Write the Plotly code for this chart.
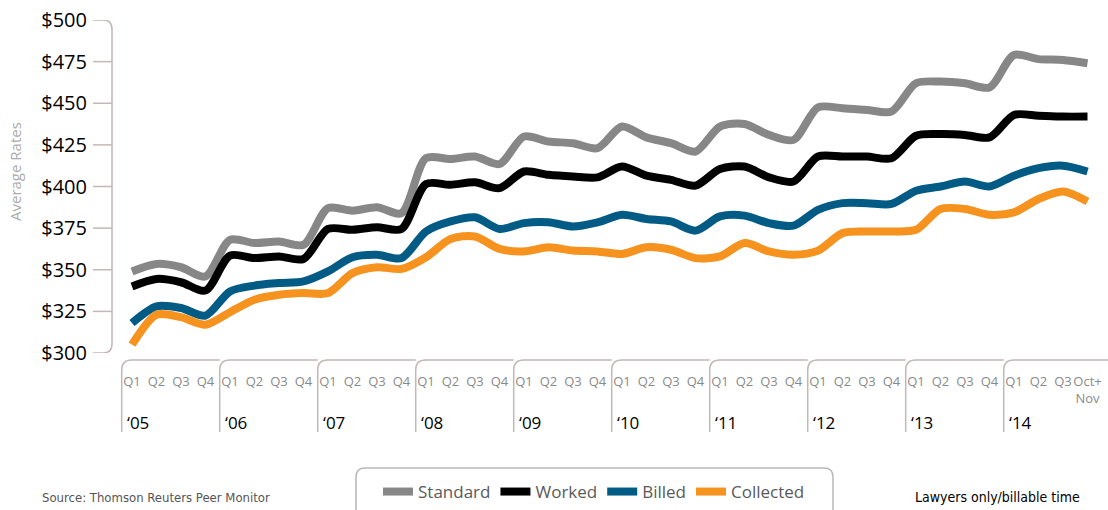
import plotly.graph_objects as go

# ---------------- data ----------------
year_labels = ["\u201805", "\u201806", "\u201807", "\u201808", "\u201809",
               "\u201810", "\u201811", "\u201812", "\u201813", "\u201814"]
quarter_labels = (["Q1", "Q2", "Q3", "Q4"] * 9) + ["Q1", "Q2", "Q3", "Oct+<br>Nov"]
y_ticks = [300, 325, 350, 375, 400, 425, 450, 475, 500]
y_tick_text = ["$300", "$325", "$350", "$375", "$400", "$425", "$450", "$475", "$500"]

standard = [349, 353.5, 351.5, 346, 368, 366, 367, 365, 387, 385.5, 387.5, 384,
            417, 416.5, 418, 413.5, 430, 427, 426, 423, 436, 429.5, 426, 421,
            436, 437.5, 431, 428, 447.5, 447, 446, 445, 462, 463, 462, 459.5,
            479, 476.5, 476, 474]
worked = [340, 344.5, 342.5, 337.5, 358.5, 357, 358, 356.5, 374.5, 374, 375.5, 374.5,
          401.5, 401, 402.5, 399, 409, 407, 406, 405.5, 412, 406.5, 404, 400.5,
          410.5, 412, 405.5, 403, 418, 418, 418, 417, 430.5, 431.5, 431, 429.5,
          443, 442.5, 442, 442]
billed = [318, 328, 327, 322.5, 337, 340.5, 342, 343, 349, 357.5, 359, 357,
          373, 379, 381.5, 374.5, 378, 378.5, 376, 378.5, 383, 380.5, 379, 373.5,
          382, 382.5, 378, 376.5, 386, 390, 390, 389.5, 397.5, 400, 403, 400,
          406.5, 411, 412.5, 409]
collected = [305, 323, 321.5, 317, 324.5, 332, 335, 336, 336, 348, 351.5, 350.5,
             357.5, 368.5, 370, 362.5, 361, 363.5, 361.5, 361, 359.5, 363.5, 362, 357,
             358, 366, 361, 359, 361.5, 372, 373, 373, 374, 386.5, 386.5, 383,
             384.5, 392.5, 397, 391]

series_names = ["Standard", "Worked", "Billed", "Collected"]
series_colors = ["#878787", "#000000", "#015b85", "#f6921e"]
series_values = [standard, worked, billed, collected]

# ---------------- layout geometry ----------------
W, H = 1108, 510
ML, MR, MT, MB = 112, 0, 20, 157
PW, PH = W - ML - MR, H - MT - MB
BOTTOM_PX = H - MB
AXIS_COLOR = "#c3b7b7"
FONT = "Open Sans, Noto Sans, sans-serif"
NARROW = "Liberation Sans Narrow, DejaVu Sans Condensed, Liberation Sans, sans-serif"

x_idx = list(range(len(quarter_labels)))
px_per_q = 24.5
x_first_px = 132
x_range = [-(x_first_px - ML) / px_per_q, (W - MR - x_first_px) / px_per_q]
px_per_val = PH / (y_ticks[-1] - y_ticks[0])


def px2paperx(px):
    return (px - ML) / PW


def px2papery(py):
    return (BOTTOM_PX - py) / PH


fig = go.Figure()
for name, color, vals in zip(series_names, series_colors, series_values):
    fig.add_trace(go.Scatter(
        x=x_idx, y=vals, name=name, mode="lines",
        line=dict(color=color, width=8, shape="spline", smoothing=0.8),
        hoverinfo="skip",
    ))

shapes = []
# y-axis bracket with rounded ends
x0 = px2paperx(93)
xr = px2paperx(112)
rx = 9 / PW
ry = 9 / px_per_val
ylo, yhi = y_ticks[0], y_ticks[-1]
shapes.append(dict(
    type="path", xref="paper", yref="y",
    path=(f"M {x0},{yhi} L {xr - rx},{yhi} Q {xr},{yhi} {xr},{yhi - ry} "
          f"L {xr},{ylo + ry} Q {xr},{ylo} {xr - rx},{ylo} L {x0},{ylo}"),
    line=dict(color=AXIS_COLOR, width=1.5),
))
for v in y_ticks[1:-1]:
    shapes.append(dict(type="line", xref="paper", yref="y",
                       x0=x0, x1=xr, y0=v, y1=v,
                       line=dict(color=AXIS_COLOR, width=1.5)))

# year brackets under the x axis
year_starts = [i for i in x_idx if i % 4 == 0]
top = px2papery(360)
bot = px2papery(432)
brx = 10 / px_per_q
bry = 10 / PH
for k, s in enumerate(year_starts):
    left = s - 0.42
    right = (year_starts[k + 1] - 0.42) if k + 1 < len(year_starts) else x_range[1]
    shapes.append(dict(
        type="path", xref="x", yref="paper",
        path=(f"M {left},{bot} L {left},{top - bry} Q {left},{top} {left + brx},{top} "
              f"L {right},{top}"),
        line=dict(color=AXIS_COLOR, width=1.5),
    ))

# legend box (rounded top corners)
lx0, lx1 = px2paperx(356), px2paperx(833)
lt, lb = px2papery(468), px2papery(520)
lrx, lry = 9 / PW, 9 / PH
shapes.append(dict(
    type="path", xref="paper", yref="paper",
    path=(f"M {lx0},{lb} L {lx0},{lt - lry} Q {lx0},{lt} {lx0 + lrx},{lt} "
          f"L {lx1 - lrx},{lt} Q {lx1},{lt} {lx1},{lt - lry} L {lx1},{lb}"),
    line=dict(color="#b8b8b8", width=1.5),
))

annotations = []
for k, s in enumerate(year_starts):
    annotations.append(dict(
        x=s - 0.42, y=px2papery(422), xref="x", yref="paper",
        text=year_labels[k], showarrow=False, xanchor="left", yanchor="middle",
        xshift=3, font=dict(family=FONT, size=17, color="#000000"),
    ))
annotations.append(dict(
    x=px2paperx(15), y=px2papery(172), xref="paper", yref="paper",
    text="Average Rates", textangle=-90, showarrow=False,
    xanchor="center", yanchor="middle",
    font=dict(family=FONT, size=15, color="#ababab"),
))
annotations.append(dict(
    x=px2paperx(40), y=px2papery(497), xref="paper", yref="paper",
    text="Source: Thomson Reuters Peer Monitor", showarrow=False,
    xanchor="left", yanchor="middle",
    font=dict(family=NARROW, size=13, color="#555555"),
))
annotations.append(dict(
    x=px2paperx(913), y=px2papery(497), xref="paper", yref="paper",
    text="Lawyers only/billable time", showarrow=False,
    xanchor="left", yanchor="middle",
    font=dict(family=NARROW, size=14, color="#000000"),
))

fig.update_layout(
    width=W, height=H,
    margin=dict(l=ML, r=MR, t=MT, b=MB, pad=0),
    paper_bgcolor="white", plot_bgcolor="white",
    font=dict(family=FONT),
    showlegend=True,
    legend=dict(
        orientation="h", x=px2paperx(594), xanchor="center",
        y=px2papery(492), yanchor="middle",
        font=dict(family=FONT, size=17, color="#5a5a5a"),
        bgcolor="rgba(0,0,0,0)", itemclick=False, itemdoubleclick=False,
    ),
    xaxis=dict(
        range=x_range, tickvals=x_idx, ticktext=quarter_labels,
        showgrid=False, zeroline=False, showline=False, ticks="",
        tickangle=0,
        tickfont=dict(family=FONT, size=13, color="#8a8a8a"),
        ticklabelstandoff=19, fixedrange=True,
    ),
    yaxis=dict(
        range=[ylo, yhi], tickvals=y_ticks, ticktext=y_tick_text,
        showgrid=False, zeroline=False, showline=False, ticks="",
        tickfont=dict(family=FONT, size=20, color="#000000"),
        ticklabelstandoff=24, fixedrange=True,
    ),
    shapes=shapes,
    annotations=annotations,
)

fig.write_html("out.html", config={"displayModeBar": False},
               post_script="document.body.style.margin='0';")
